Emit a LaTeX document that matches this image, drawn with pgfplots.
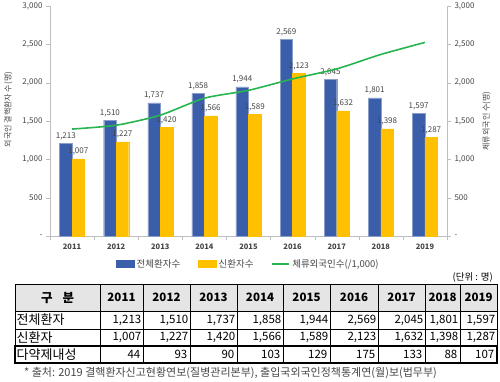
\documentclass[border=0pt]{standalone}
\usepackage{pgfplots}
\pgfplotsset{compat=1.18}
\usepackage{fontspec}
\setmainfont{Noto Sans CJK KR}
\definecolor{cblue}{RGB}{59,94,170}
\definecolor{cyellow}{RGB}{255,192,0}
\definecolor{cgreen}{RGB}{40,180,80}
\definecolor{tgray}{RGB}{70,70,70}
\definecolor{agray}{RGB}{190,190,190}
\begin{document}
\begin{tikzpicture}
\useasboundingbox (0pt,0pt) rectangle (500pt,-381pt);
\begin{axis}[
  at={(50pt,-236pt)}, anchor=south west,
  scale only axis, width=397pt, height=230pt,
  xmin=-0.5, xmax=8.5, ymin=0, ymax=3000,
  axis x line*=bottom, axis y line*=left,
  axis line style={draw=agray,-},
  xtick={-0.5,0.5,...,8.5}, x tick label as interval,
  xticklabels={2011,2012,2013,2014,2015,2016,2017,2018,2019},
  xticklabel style={font=\fontsize{7.5}{9}\selectfont\bfseries, text=tgray},
  ytick={0,500,...,3000},
  yticklabels={-,500,{1,000},{1,500},{2,000},{2,500},{3,000}},
  yticklabel style={font=\fontsize{8}{9}\selectfont, text=tgray},
  tick align=outside, major tick length=4pt, tick style={draw=agray},
  ylabel={외국인 결핵환자 수(명)},
  ylabel style={at={(axis description cs:-0.105,0.55)}, anchor=center, font=\fontsize{8}{9}\selectfont, text=tgray},
  ybar=0pt, bar width=12.5pt,
  nodes near coords,
  nodes near coords style={font=\fontsize{8}{9}\selectfont, text=tgray},
  /pgf/number format/1000 sep={,},
  /pgf/number format/assume math mode=true,
  legend columns=3,
  legend style={at={(0.5,-0.122)}, anchor=center, draw=none, fill=none,
    font=\fontsize{9.5}{11}\selectfont, text=tgray,
    /tikz/every even column/.append style={column sep=16pt}},
]
\addplot[fill=cblue, draw=cblue!60!white, line width=0.3pt,
  legend image code/.code={\fill[cblue] (0pt,-3.5pt) rectangle (18pt,3.5pt);}]
  coordinates {(0,1213) (1,1510) (2,1737) (3,1858) (4,1944) (5,2569) (6,2045) (7,1801) (8,1597)};
\addlegendentry{전체환자수}
\addplot[fill=cyellow, draw=cyellow, line width=0.3pt,
  legend image code/.code={\fill[cyellow] (0pt,-3.5pt) rectangle (18pt,3.5pt);}]
  coordinates {(0,1007) (1,1227) (2,1420) (3,1566) (4,1589) (5,2123) (6,1632) (7,1398) (8,1287)};
\addlegendentry{신환자수}
\addlegendimage{cgreen, line width=1.6pt, legend image code/.code={\draw[cgreen, line width=1.6pt] (0pt,0pt) -- (17pt,0pt);}}
\addlegendentry{체류외국인수(/1,000)}
\end{axis}
\begin{axis}[
  at={(50pt,-236pt)}, anchor=south west,
  scale only axis, width=397pt, height=230pt,
  xmin=-0.5, xmax=8.5, ymin=0, ymax=3000,
  axis x line=none, axis y line*=right,
  axis line style={draw=agray,-},
  ytick={0,500,...,3000},
  yticklabels={-,500,{1,000},{1,500},{2,000},{2,500},{3,000}},
  yticklabel style={font=\fontsize{8}{9}\selectfont, text=tgray},
  tick align=outside, major tick length=4pt, tick style={draw=agray},
  ylabel={체류외국인 수(명)},
  ylabel style={at={(axis description cs:1.10,0.5)}, anchor=center, font=\fontsize{8}{9}\selectfont, text=tgray},
]
\addplot[cgreen, line width=1.6pt, smooth, tension=0.4, mark=none]
  coordinates {(0,1395) (1,1445) (2,1576) (3,1798) (4,1900) (5,2049) (6,2180) (7,2368) (8,2525)};
\end{axis}
\begin{scope}[x=1pt,y=-1pt]
  \fill[gray!20] (15,284) rectangle (497,311);
  \foreach \yy in {311,329,346} {\draw[line width=0.5pt] (15,\yy) -- (497,\yy);}
  \foreach \xx in {100,143,190,237,283,330,378,425,460} {\draw[line width=0.5pt] (\xx,284) -- (\xx,363);}
  \draw[line width=0.7pt] (15,284) rectangle (497,363);
  \draw[line width=1.4pt] (15,346) rectangle (497,363);
  \node[font=\fontsize{12.5}{13}\selectfont\bfseries] at (57.5,297.5) {구\hspace{10pt}분};
  \foreach \yr/\l/\r in {2011/100/143,2012/143/190,2013/190/237,2014/237/283,2015/283/330,2016/330/378,2017/378/425,2018/425/460,2019/460/497}
    {\node[font=\fontsize{11.5}{13}\selectfont\bfseries] at ({(\l+\r)/2},297.5) {\yr};}
  \begin{scope}[every node/.style={font=\fontsize{11.5}{12}\selectfont, inner sep=1pt}]
  \node[anchor=west, font=\fontsize{13}{14}\selectfont] at (15.5,320) {전체환자};
  \node[anchor=west, font=\fontsize{13}{14}\selectfont] at (15.5,337.5) {신환자};
  \node[anchor=west, font=\fontsize{13}{14}\selectfont] at (15.5,354.5) {다약제내성};
  \foreach \v/\r in {{1,213}/143,{1,510}/190,{1,737}/237,{1,858}/283,{1,944}/330,{2,569}/378,{2,045}/425,{1,801}/460,{1,597}/497}
    {\node[anchor=east] at (\r-0.5,320) {\v};}
  \foreach \v/\r in {{1,007}/143,{1,227}/190,{1,420}/237,{1,566}/283,{1,589}/330,{2,123}/378,{1,632}/425,{1,398}/460,{1,287}/497}
    {\node[anchor=east] at (\r-0.5,337.5) {\v};}
  \foreach \v/\r in {44/143,93/190,90/237,103/283,129/330,175/378,133/425,88/460,107/497}
    {\node[anchor=east] at (\r-1.5,354.5) {\v};}
  \end{scope}
  \node[anchor=east, font=\fontsize{9.5}{10}\selectfont, inner sep=0pt] at (493,277) {(단위 : 명)};
  \node[anchor=west, font=\fontsize{11}{12}\selectfont, text=tgray, inner sep=0pt] at (24,373) {* 출처: 2019 결핵환자신고현황연보(질병관리본부), 출입국외국인정책통계연(월)보(법무부)};
\end{scope}
\end{tikzpicture}
\end{document}
